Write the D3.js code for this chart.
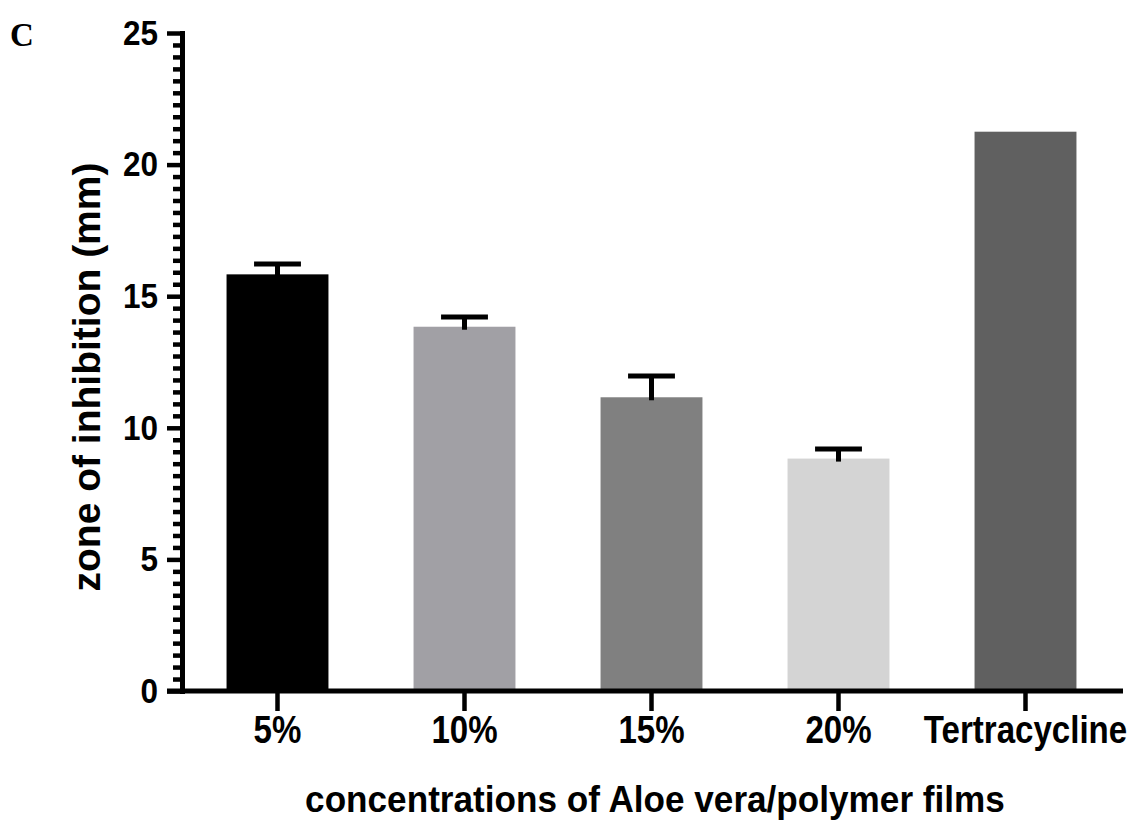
<!DOCTYPE html>
<html>
<head>
<meta charset="utf-8">
<script src="https://cdn.jsdelivr.net/npm/d3@7"></script>
<style>
  html, body { margin: 0; padding: 0; background: #fff; }
  svg { display: block; }
  text { font-family: "Liberation Sans", Arial, Helvetica, sans-serif; font-weight: bold; fill: #000; }
</style>
</head>
<body>
<svg id="chart" width="1139" height="822"></svg>
<script>
// ---- data ----
const categories = ["5%", "10%", "15%", "20%", "Tertracycline"];
const means = [15.83, 13.84, 11.16, 8.83, 21.25];
const errors = [0.39, 0.37, 0.81, 0.36, 0];
const barColors = ["#000000", "#a1a0a5", "#808080", "#d4d4d4", "#606060"];
const yTicks = [0, 5, 10, 15, 20, 25];
const minorPerInterval = 10;
const yTitle = "zone of inhibition (mm)";
const xTitle = "concentrations of Aloe vera/polymer films";
const panelLabel = "C";

// ---- layout ----
const svg = d3.select("#chart");
const axisX = 182, yTop = 33, yBottom = 691;
const xAxisStart = 167, xAxisEnd = 1123;

const x = d3.scaleBand().domain(categories).range([184, 1119])
  .paddingInner(0.455).paddingOuter(0.2275);
const y = d3.scaleLinear().domain([0, 25]).range([yBottom, yTop]);

// condense text horizontally (narrow bold sans look) via a horizontal scale transform
function condense(sel, f) {
  sel.each(function () {
    const t = d3.select(this);
    const x0 = +(t.attr("x") || 0);
    t.attr("x", x0 / f).attr("transform", `scale(${f},1)`);
  });
}

// bars
svg.append("g").selectAll("rect").data(categories).join("rect")
  .attr("x", d => x(d))
  .attr("width", x.bandwidth())
  .attr("y", (d, i) => y(means[i]))
  .attr("height", (d, i) => y(0) - y(means[i]))
  .attr("fill", (d, i) => barColors[i]);

// error bars (SD above)
const capW = x.bandwidth() * 0.46;
const eb = svg.append("g").attr("stroke", "#000").attr("fill", "none");
categories.forEach((c, i) => {
  if (!errors[i]) return;
  const cx = x(c) + x.bandwidth() / 2;
  eb.append("line").attr("x1", cx).attr("x2", cx)
    .attr("y1", y(means[i]) + 3).attr("y2", y(means[i] + errors[i]))
    .attr("stroke-width", 5);
  eb.append("line").attr("x1", cx - capW / 2).attr("x2", cx + capW / 2)
    .attr("y1", y(means[i] + errors[i])).attr("y2", y(means[i] + errors[i]))
    .attr("stroke-width", 5);
});

// minor ticks
const minorTicks = [];
for (let k = 0; k < yTicks.length - 1; k++) {
  const a = yTicks[k], b = yTicks[k + 1];
  for (let j = 1; j <= minorPerInterval; j++) minorTicks.push(a + (b - a) * j / (minorPerInterval + 1));
}
const minorAxis = svg.append("g").attr("transform", `translate(${axisX},0)`)
  .call(d3.axisLeft(y).tickValues(minorTicks).tickSize(9).tickFormat("").tickSizeOuter(0));
minorAxis.select(".domain").remove();
minorAxis.selectAll(".tick line").attr("stroke", "#000").attr("stroke-width", 4.5);

// y axis
const yAxis = svg.append("g").attr("transform", `translate(${axisX},0)`)
  .call(d3.axisLeft(y).tickValues(yTicks).tickSize(15).tickPadding(9).tickSizeOuter(0));
yAxis.select(".domain").attr("stroke", "#000").attr("stroke-width", 5).attr("stroke-linecap", "square");
yAxis.selectAll(".tick line").attr("stroke", "#000").attr("stroke-width", 4.5);
yAxis.selectAll(".tick text").attr("font-size", 35).attr("font-family", null).attr("font-weight", "bold")
  .call(condense, 0.9);

// x axis
const xAxis = svg.append("g").attr("transform", `translate(0,${yBottom})`)
  .call(d3.axisBottom(x).tickSize(20).tickPadding(5).tickSizeOuter(0));
xAxis.select(".domain").remove();
xAxis.append("line").attr("x1", xAxisStart).attr("x2", xAxisEnd)
  .attr("y1", 0).attr("y2", 0).attr("stroke", "#000").attr("stroke-width", 5);
xAxis.selectAll(".tick line").attr("stroke", "#000").attr("stroke-width", 4.5);
xAxis.selectAll(".tick text").attr("font-size", 38).attr("font-family", null).attr("font-weight", "bold")
  .call(condense, 0.87);

// axis titles
svg.append("text")
  .attr("transform", `translate(100,377) rotate(-90)`)
  .attr("text-anchor", "middle").attr("font-size", 39)
  .text(yTitle);
svg.append("text")
  .attr("x", 655).attr("y", 812)
  .attr("text-anchor", "middle").attr("font-size", 37)
  .text(xTitle).call(condense, 0.95);

// panel label
svg.append("text")
  .attr("x", 10).attr("y", 46)
  .style("font-family", "'Liberation Serif', 'Times New Roman', serif")
  .attr("font-size", 33)
  .text(panelLabel);
</script>
</body>
</html>
